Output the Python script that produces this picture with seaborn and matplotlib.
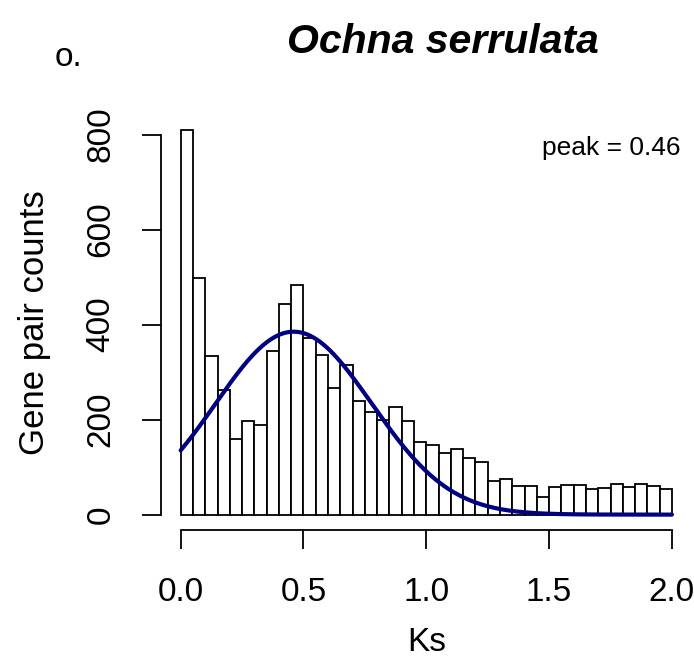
import numpy as np
import pandas as pd
import matplotlib
matplotlib.use("Agg")
import matplotlib.pyplot as plt
import seaborn as sns

# ---- data ----
bin_edges = [round(0.05 * i, 2) for i in range(41)]
counts = [810, 498, 334, 262, 160, 196, 188, 345, 443, 483,
          372, 335, 267, 314, 239, 217, 199, 226, 198, 152,
          146, 129, 138, 120, 110, 71, 75, 60, 61, 37,
          59, 63, 63, 53, 57, 64, 59, 64, 61, 54]
fit_peak = 0.46
fit_sd = 0.318
fit_amp = 385
x_ticks = [0.0, 0.5, 1.0, 1.5, 2.0]
x_ticklabels = ["0.0", "0.5", "1.0", "1.5", "2.0"]
y_ticks = [0, 200, 400, 600, 800]
y_ticklabels = ["0", "200", "400", "600", "800"]
title = "Ochna serrulata"
panel = "o."
peak_label = "peak = 0.46"

sns.set_style("white")
plt.rcParams['font.family'] = ['Liberation Sans', 'DejaVu Sans']
plt.rcParams['text.color'] = 'black'
plt.rcParams['axes.labelcolor'] = 'black'
plt.rcParams['xtick.color'] = 'black'
plt.rcParams['ytick.color'] = 'black'

centers = [(bin_edges[i] + bin_edges[i + 1]) / 2 for i in range(len(counts))]
df = pd.DataFrame({"Ks": centers, "n": counts})

fig = plt.figure(figsize=(6.94, 6.65), dpi=100)
ax = fig.add_axes([0.232, 0.203, 0.7645, 0.625])

sns.histplot(data=df, x="Ks", weights="n", bins=bin_edges, ax=ax,
             color="white", edgecolor="black", linewidth=1.3, alpha=1)

xs = np.linspace(0, 2, 400)
ys = fit_amp * np.exp(-(xs - fit_peak) ** 2 / (2 * fit_sd ** 2))
sns.lineplot(x=xs, y=ys, ax=ax, color="#000080", linewidth=3.0)

ymax = max(counts)
ax.set_xlim(-0.08, 2.08)
ax.set_ylim(-0.04 * ymax, 1.04 * ymax)

for s in ["top", "right"]:
    ax.spines[s].set_visible(False)
ax.spines["left"].set_bounds(0, 800)
ax.spines["bottom"].set_bounds(0, 2)
for s in ["left", "bottom"]:
    ax.spines[s].set_linewidth(1.3)
    ax.spines[s].set_color("black")

ax.set_xticks(x_ticks)
ax.set_xticklabels(x_ticklabels)
ax.set_yticks(y_ticks)
ax.set_yticklabels(y_ticklabels, rotation=90, va="center")
ax.tick_params(axis="both", direction="out", length=14, width=1.3,
               labelsize=24, color="black", bottom=True, left=True)
ax.tick_params(axis="y", pad=18)
ax.tick_params(axis="x", pad=19.5)

ax.set_xlabel("Ks", fontsize=24, labelpad=14)
ax.set_ylabel("Gene pair counts", fontsize=25, labelpad=25)

fig.text(443 / 694, 1 - 42 / 665, title, fontsize=29.5,
         fontweight="bold", fontstyle="italic", ha="center", va="center")
fig.text(55 / 694, 1 - 57 / 665, panel, fontsize=24, ha="left", va="center")
ax.text(0.98, 0.92, peak_label, transform=ax.transAxes, fontsize=19,
        ha="right", va="center")

fig.savefig("out.png", dpi=100)
